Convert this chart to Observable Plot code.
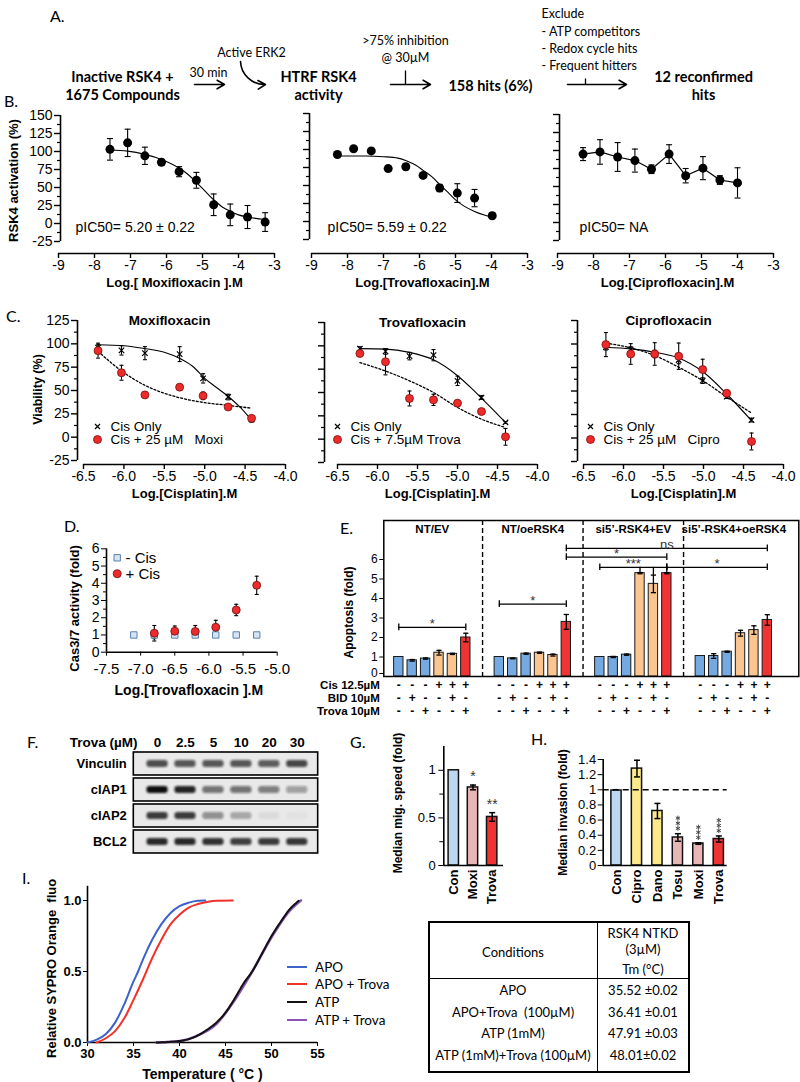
<!DOCTYPE html>
<html><head><meta charset="utf-8">
<script src="https://cdn.jsdelivr.net/npm/d3@7"></script>
<script src="https://cdn.jsdelivr.net/npm/@observablehq/plot@0.6"></script>
<style>
body{margin:0;background:#fff;}
#fig{position:relative;width:800px;height:1082px;overflow:hidden;background:#fff;}
.p{position:absolute;}
.p svg{overflow:visible;max-width:none !important;}
.lab{position:absolute;font-family:Lato,"Open Sans",sans-serif;font-size:16px;white-space:nowrap;line-height:1;}
#tbl{position:absolute;left:428px;top:921px;width:258px;height:148px;border:2px solid #000;font-family:Lato,"Open Sans",sans-serif;font-size:13px;}
#tbl .c{position:absolute;transform:translate(-50%,-50%);white-space:nowrap;}
#leg{position:absolute;left:287px;top:958px;font-family:Lato,"Open Sans",sans-serif;font-size:13.5px;}
#leg div{height:17.6px;display:flex;align-items:center;}
#leg span.l{display:inline-block;width:20px;height:2px;margin-right:8px;}
</style></head><body><div id="fig"></div>
<script>
const FONT = '"Liberation Sans", Arial, sans-serif';
const NARROW = 'Lato, "Open Sans", sans-serif';

// ================= DATA =================
// Panel A (flowchart)
const aBold = ["Inactive RSK4 +", "1675 Compounds", "HTRF RSK4", "activity", "158 hits (6%)", "12 reconfirmed", "hits"];
const aSmallMid = ["30 min", "Active ERK2", ">75% inhibition", "@ 30µM"];
const aSmallStart = ["Exclude", "- ATP competitors", "- Redox cycle hits", "- Frequent hitters"];

// Panel B
const bMoxiX = [-7.57, -7.08, -6.6, -6.14, -5.65, -5.17, -4.69, -4.23, -3.75, -3.26];
const bMoxiY = [103, 112, 94, 85, 72, 60, 26, 12, 9, 2];
const bMoxiE = [15, 19, 12, 4, 7, 11, 15, 15, 16, 13];
const bMoxiFitX = [-7.57, -7.08, -6.6, -6.14, -5.65, -5.4, -5.17, -4.95, -4.69, -4.45, -4.23, -4.0, -3.75, -3.26];
const bMoxiFitY = [102, 100.5, 96, 89, 77, 68, 57, 46, 33, 23, 17, 12, 9, 5.5];

const bTrovaX = [-8.28, -7.83, -7.34, -6.87, -6.38, -5.9, -5.44, -4.95, -4.47, -3.98];
const bTrovaY = [93, 101, 98, 73.5, 76, 64, 46.5, 39.5, 32.5, 8];
const bTrovaE = [2, 2, 2, 4, 4, 2, 5, 13, 12, 4];
const bTrovaFitX = [-8.28, -7.5, -7.0, -6.6, -6.35, -6.1, -5.9, -5.65, -5.45, -5.2, -5.0, -4.75, -4.47, -4.2, -3.98];
const bTrovaFitY = [91, 91, 90, 88, 84, 78, 71, 62, 52, 40, 30, 21, 14, 9, 6];

const bCiproX = [-8.29, -7.82, -7.33, -6.85, -6.39, -5.9, -5.44, -4.96, -4.49, -4.0];
const bCiproY = [95, 98, 91, 86, 74, 95, 65, 75.5, 59, 55];
const bCiproE = [9, 17, 20, 16, 6, 13, 10, 16, 6, 21];

// Panel C
const cMoxiX = [-6.32, -6.03, -5.74, -5.31, -5.02, -4.71, -4.42];
const cMoxiCis = [96, 93, 90, 89, 63, 43, 19];
const cMoxiCisE = [3, 5, 7, 8, 5, 3, 3];
const cMoxiCombo = [92.7, 69, 45.3, 53.6, 44.3, 32.4, 20.2];
const cMoxiComboE = [8, 8, 3, 3, 4, 2, 2];
const cMoxiFitCisX = [-6.32, -6.0, -5.75, -5.5, -5.3, -5.15, -5.0, -4.85, -4.7, -4.55, -4.42];
const cMoxiFitCisY = [99, 98, 95, 91, 84, 76, 63, 53, 43, 31, 18];
const cMoxiFitComboX = [-6.32, -6.03, -5.75, -5.5, -5.3, -5.0, -4.7, -4.42];
const cMoxiFitComboY = [92, 71, 56, 47, 42, 37, 34, 31];

const cTrovaX = [-6.22, -5.9, -5.6, -5.3, -5.0, -4.7, -4.4];
const cTrovaCis = [97, 94, 89, 90, 62.5, 44.6, 17.9];
const cTrovaCisE = [2, 3, 4, 6, 5, 2, 1];
const cTrovaCombo = [91.8, 82.9, 43.6, 42.1, 38.6, 29.6, 2.5];
const cTrovaComboE = [3, 14, 8, 6, 3, 3, 9];
const cTrovaFitCisX = [-6.22, -5.9, -5.6, -5.3, -5.0, -4.83, -4.7, -4.55, -4.4];
const cTrovaFitCisY = [97, 96.5, 93, 85, 68, 55, 44, 31, 18];
const cTrovaFitComboX = [-6.22, -5.9, -5.6, -5.3, -5.0, -4.7, -4.4];
const cTrovaFitComboY = [82, 73, 62.5, 50, 34, 21.4, 12.5];

const cCiproX = [-6.22, -5.91, -5.61, -5.31, -5.01, -4.71, -4.4];
const cCiproCis = [96.6, 94.1, 89.4, 83, 61, 44, 19.1];
const cCiproCisE = [3, 3, 4, 4, 3, 2, 2];
const cCiproCombo = [99.4, 89.4, 89.4, 87, 72.8, 47.6, -3.7];
const cCiproComboE = [12.8, 11, 12, 14, 11, 3, 9];
const cCiproFitCisY = [96.6, 94.8, 91.3, 85.2, 70.7, 46.8, 18.4];
const cCiproFitComboY = [101, 95.9, 87.7, 75.3, 61, 43.7, 26.6];

// Panel D
const dXNeg = [-7.1, -6.8, -6.5, -6.2, -5.9, -5.6, -5.3];
const dYNeg = [1, 1, 1, 1, 1, 1, 1];
const dENeg = [0, 0.22, 0.08, 0.08, 0.05, 0, 0];
const dXPos = [-6.8, -6.5, -6.2, -5.9, -5.6, -5.3];
const dYPos = [1.1, 1.22, 1.2, 1.45, 2.45, 3.88];
const dEPos = [0.45, 0.3, 0.35, 0.4, 0.33, 0.53];

// Panel E
const eGroups = ["NT/EV", "NT/oeRSK4", "si5’-RSK4+EV", "si5’-RSK4+oeRSK4"];
const eVals = [[1.0, 0.83, 0.92, 1.22, 1.16, 2.0], [1.0, 0.93, 1.17, 1.22, 1.1, 2.8], [1.0, 1.0, 1.12, 5.3, 4.75, 5.3], [1.05, 1.05, 1.27, 2.22, 2.38, 2.9]];
const eErr = [[0, 0.04, 0.03, 0.12, 0.03, 0.22], [0, 0.02, 0.03, 0.03, 0.05, 0.38], [0, 0.03, 0.03, 0.03, 0.45, 0.03], [0, 0.12, 0.03, 0.15, 0.22, 0.27]];
const eCis = ["-", "-", "-", "+", "+", "+"];
const eBID = ["-", "+", "-", "-", "+", "-"];
const eTrova = ["-", "-", "+", "-", "-", "+"];
const eRowLabels = ["Cis 12.5µM", "BID 10µM", "Trova 10µM"];
const eBrackets = [
  {g1: 0, i1: 0, g2: 0, i2: 5, y: 2.52, label: "*"},
  {g1: 1, i1: 0, g2: 1, i2: 5, y: 3.71, label: "*"},
  {g1: 1, i1: 5, g2: 3, i2: 5, y: 6.57, label: "ns"},
  {g1: 1, i1: 5, g2: 2, i2: 5, y: 6.12, label: "*"},
  {g1: 2, i1: 0, g2: 2, i2: 5, y: 5.6, label: "***"},
  {g1: 2, i1: 5, g2: 3, i2: 5, y: 5.6, label: "*"}
];

// Panel F (western blot band intensities)
const fLanes = ["0", "2.5", "5", "10", "20", "30"];
const fProteins = ["Vinculin", "cIAP1", "cIAP2", "BCL2"];
const fIntensity = [
  [0.72, 0.68, 0.68, 0.68, 0.65, 0.75],
  [1.0, 0.9, 0.55, 0.55, 0.5, 0.35],
  [0.8, 0.8, 0.42, 0.28, 0.06, 0.03],
  [0.88, 0.88, 0.84, 0.78, 0.8, 0.82]
];

// Panel G
const gCats = ["Con", "Moxi", "Trova"];
const gVals = [1.0, 0.82, 0.51];
const gErr = [0, 0.025, 0.045];
const gStars = ["", "*", "**"];

// Panel H
const hCats = ["Con", "Cipro", "Dano", "Tosu", "Moxi", "Trova"];
const hVals = [0.99, 1.28, 0.72, 0.37, 0.29, 0.35];
const hErr = [0, 0.11, 0.1, 0.05, 0.01, 0.04];
const hStars = [0, 0, 0, 3, 3, 3];

// Panel I
const iSeries = ["APO", "APO + Trova", "ATP", "ATP + Trova"];
const iApoT = [30, 31, 32, 33, 34, 35, 35.5, 36, 37, 38, 39, 40, 41, 42, 42.8];
const iApoF = [0, 0.02, 0.06, 0.14, 0.27, 0.43, 0.5, 0.58, 0.72, 0.83, 0.91, 0.96, 0.985, 0.998, 1.0];
const iApoTrT = [31, 32, 33, 34, 35, 36, 36.4, 37, 38, 39, 40, 41, 42, 43, 44, 45.8];
const iApoTrF = [0, 0.03, 0.08, 0.17, 0.3, 0.44, 0.5, 0.59, 0.72, 0.83, 0.9, 0.95, 0.975, 0.99, 0.998, 1.0];
const iAtpT = [37.5, 40, 42, 43, 44, 45, 46, 47, 47.9, 49, 50, 51, 52, 53];
const iAtpF = [0, 0.01, 0.05, 0.09, 0.14, 0.21, 0.31, 0.42, 0.5, 0.63, 0.75, 0.85, 0.94, 1.0];
const iAtpTrT = [37.5, 40, 42, 44, 46, 48, 50, 52, 53.2];
const iAtpTrF = [0, 0.01, 0.05, 0.13, 0.3, 0.51, 0.74, 0.93, 1.0];
const tConditions = ["APO", "APO+Trova  (100µM)", "ATP (1mM)", "ATP (1mM)+Trova (100µM)"];
const tTm = ["35.52 ±0.02", "36.41 ±0.01", "47.91 ±0.03", "48.01±0.02"];

// ================= HELPERS =================
const fig = document.getElementById("fig");
function place(node, left, top, w) {
  const d = document.createElement("div");
  d.className = "p"; d.style.left = left + "px"; d.style.top = top + "px";
  if (w) d.style.width = w + "px";
  d.appendChild(node); fig.appendChild(d); return d;
}
function lab(text, left, top, css = {}) {
  const d = document.createElement("div"); d.className = "lab"; d.textContent = text;
  d.style.left = left + "px"; d.style.top = top + "px"; Object.assign(d.style, css);
  fig.appendChild(d); return d;
}
const baseStyle = {fontFamily: FONT, fontSize: "14px", background: "transparent", overflow: "visible"};
const capSym = {draw(ctx, size) { const r = Math.sqrt(size / Math.PI); ctx.moveTo(-r, 0); ctx.lineTo(r, 0); }};
function rows(X, Y, E) { return X.map((x, i) => ({x, y: Y[i], e: E ? E[i] : 0})); }
function errMarks(data, {stroke = "#000", cap = 3, sw = 1.1} = {}) {
  const d = data.filter(r => r.e > 0);
  return [
    Plot.ruleX(d, {x: "x", y1: r => r.y - r.e, y2: r => r.y + r.e, stroke, strokeWidth: sw}),
    Plot.dot(d, {x: "x", y: r => r.y + r.e, symbol: capSym, r: cap, fill: "none", stroke, strokeWidth: sw}),
    Plot.dot(d, {x: "x", y: r => r.y - r.e, symbol: capSym, r: cap, fill: "none", stroke, strokeWidth: sw})
  ];
}
function yTitle(t, dx, dy, size = 13) {
  return Plot.text([t], {frameAnchor: "left", rotate: -90, dx, dy, textAnchor: "middle", lineAnchor: "middle", fontWeight: "bold", fontSize: size});
}
function xTitle(t, dy, dx = 0, size = 13) {
  return Plot.text([t], {frameAnchor: "bottom", dx, dy, textAnchor: "middle", lineAnchor: "middle", fontWeight: "bold", fontSize: size});
}

function dosePanel(o) {
  const mL = 62, mT = 14, mR = 24, mB = 44;
  const L = o.x0 - mL, T = o.y1 - mT;
  const W = mL + (o.x1 - o.x0) + mR;
  const H = (o.axisPx - T) + mB;
  const [ymin, ymax] = o.yDomain;
  const yLine = ymin - (o.axisPx - o.y0) * (ymax - ymin) / (o.y0 - o.y1);
  const dxY = o.yAxisPx - o.x0;
  const marks = [
    Plot.ruleY([yLine], {stroke: "#000", strokeWidth: 1.6}),
    Plot.ruleX([o.xDomain[0]], {y1: ymin, y2: ymax, dx: dxY, stroke: "#000", strokeWidth: 1.6}),
    Plot.axisX({ticks: o.xTicks, tickFormat: o.xFmt, tickSize: 5, tickPadding: 2, fontSize: 14, strokeWidth: 1.4, label: null}),
    Plot.axisY({ticks: o.yMinor, tickFormat: () => "", tickSize: 3, dx: dxY, strokeWidth: 1.2, label: null}),
    Plot.axisY({ticks: o.yTicks, tickFormat: o.showY ? (d) => String(d) : () => "", tickSize: 6, tickPadding: 2, dx: dxY, fontSize: 14, strokeWidth: 1.4, label: null}),
    xTitle(o.xTitle, o.xTitleDy, o.xTitleDx || 0)
  ];
  if (o.yTitle) marks.push(yTitle(o.yTitle, o.yTitleDx, o.yTitleDy || 0, o.yTitleSize || 13));
  marks.push(...o.marks);
  const svg = Plot.plot({
    width: W, height: H, marginLeft: mL, marginRight: mR, marginTop: mT, marginBottom: mB,
    x: {domain: o.xDomain}, y: {domain: o.yDomain, range: [o.y0 - T, o.y1 - T]},
    style: baseStyle, marks
  });
  place(svg, L, T, W);
}

// ================= PANEL A =================
{
  const boldPos = [[122, 77], [122, 95], [318, 77], [318, 95], [490, 86], [703, 77], [703, 95]];
  const midPos = [[208, 72], [251, 52], [405, 40], [405, 57]];
  const startPos = [[541, 13], [541, 31], [541, 48], [541, 65]];
  const arrows = [[194, 84, 224, 84], [390, 84, 430, 84], [567, 84, 626, 84]];
  const hooks = [[240, 61, 265, 84]];
  const stems = [[405, 70, 405, 84], [585, 78, 585, 84]];
  const svg = Plot.plot({
    width: 800, height: 100, margin: 0,
    x: {type: "identity", axis: null}, y: {type: "identity", axis: null},
    style: {...baseStyle, fontFamily: NARROW},
    marks: [
      Plot.text(aBold, {x: (d, i) => boldPos[i][0], y: (d, i) => boldPos[i][1], fontWeight: "bold", fontSize: 14.5}),
      Plot.text(aSmallMid, {x: (d, i) => midPos[i][0], y: (d, i) => midPos[i][1], fontSize: 12.5}),
      Plot.text(aSmallStart, {x: (d, i) => startPos[i][0], y: (d, i) => startPos[i][1], fontSize: 12.5, textAnchor: "start"}),
      Plot.arrow(arrows, {x1: d => d[0], y1: d => d[1], x2: d => d[2], y2: d => d[3], headLength: 8, strokeWidth: 1.6, stroke: "#000"}),
      Plot.arrow(hooks, {x1: d => d[0], y1: d => d[1], x2: d => d[2], y2: d => d[3], bend: -45, headLength: 8, strokeWidth: 1.6, stroke: "#000"}),
      Plot.link(stems, {x1: d => d[0], y1: d => d[1], x2: d => d[2], y2: d => d[3], strokeWidth: 1.3, stroke: "#000"})
    ]
  });
  place(svg, 0, 0, 800);
}

// ================= PANEL B =================
const bCommon = {xDomain: [-9, -3], yDomain: [-25, 150], xTicks: d3.range(-9, -2), xFmt: d => String(d),
  yTicks: d3.range(-25, 151, 25), yMinor: d3.range(-12.5, 150, 25), xTitleDy: 29};
function pic(t, dx) {
  return Plot.text([t], {frameAnchor: "bottom-left", dx, dy: -26, textAnchor: "start", lineAnchor: "middle", fontSize: 14});
}
{
  const pts = rows(bMoxiX, bMoxiY, bMoxiE);
  const fit = rows(bMoxiFitX, bMoxiFitY);
  dosePanel({...bCommon, x0: 58, x1: 274, y1: 115, y0: 241, axisPx: 253, yAxisPx: 60, showY: true,
    xTitle: "Log.[ Moxifloxacin ].M", xTitleDx: 8, yTitle: "RSK4 activation (%)", yTitleDx: -45, yTitleDy: -4,
    marks: [
      Plot.line(fit, {x: "x", y: "y", curve: "monotone-x", stroke: "#000", strokeWidth: 1.1}),
      ...errMarks(pts),
      Plot.dot(pts, {x: "x", y: "y", r: 4.5, fill: "#000"}),
      pic("pIC50= 5.20 ± 0.22", 17)
    ]});
}
{
  const pts = rows(bTrovaX, bTrovaY, bTrovaE);
  const fit = rows(bTrovaFitX, bTrovaFitY);
  dosePanel({...bCommon, x0: 311, x1: 527, y1: 113, y0: 239, axisPx: 253, yAxisPx: 309, showY: false,
    xTitle: "Log.[Trovafloxacin].M", xTitleDx: 3,
    marks: [
      Plot.line(fit, {x: "x", y: "y", curve: "monotone-x", stroke: "#000", strokeWidth: 1.1}),
      ...errMarks(pts),
      Plot.dot(pts, {x: "x", y: "y", r: 4.5, fill: "#000"}),
      pic("pIC50= 5.59 ± 0.22", 16)
    ]});
}
{
  const pts = rows(bCiproX, bCiproY, bCiproE);
  dosePanel({...bCommon, x0: 557, x1: 773, y1: 114, y0: 240, axisPx: 253, yAxisPx: 559, showY: false,
    xTitle: "Log.[Ciprofloxacin].M", xTitleDx: 2,
    marks: [
      Plot.line(pts, {x: "x", y: "y", stroke: "#000", strokeWidth: 1.2}),
      ...errMarks(pts),
      Plot.dot(pts, {x: "x", y: "y", r: 4.5, fill: "#000"}),
      pic("pIC50= NA", 22)
    ]});
}

// ================= PANEL C =================
const cCommon = {xDomain: [-6.5, -4.0], yDomain: [-25, 125], xTicks: d3.range(-6.5, -3.99, 0.5), xFmt: d => d.toFixed(1),
  yTicks: d3.range(-25, 126, 25), yMinor: d3.range(-12.5, 125, 25), xTitleDy: 29, xTitle: "Log.[Cisplatin].M"};
function cMarks(X, cis, cisE, combo, comboE, fitCisX, fitCisY, fitComboX, fitComboY, title, legendTxt, lgDx) {
  const c1 = rows(X, cis, cisE), c2 = rows(X, combo, comboE);
  const lt = (t, dy) => Plot.text([t], {frameAnchor: "bottom-left", dx: lgDx + 13, dy, textAnchor: "start", lineAnchor: "middle", fontSize: 13.5});
  return [
    Plot.line(rows(fitCisX, fitCisY), {x: "x", y: "y", curve: "monotone-x", stroke: "#000", strokeWidth: 1.1}),
    Plot.line(rows(fitComboX, fitComboY), {x: "x", y: "y", curve: "monotone-x", stroke: "#000", strokeWidth: 1.3, strokeDasharray: "2,2"}),
    ...errMarks(c1, {cap: 2}),
    ...errMarks(c2, {cap: 2}),
    Plot.dot(c1, {x: "x", y: "y", symbol: "times", r: 2.6, stroke: "#000", strokeWidth: 1.2}),
    Plot.dot(c2, {x: "x", y: "y", r: 4, fill: "#ee2b2b", stroke: "#7a1010", strokeWidth: 0.8}),
    Plot.text([title], {frameAnchor: "top", dx: -15, textAnchor: "middle", lineAnchor: "middle", fontWeight: "bold", fontSize: 13.5}),
    Plot.dot([0], {frameAnchor: "bottom-left", dx: lgDx, dy: -38, symbol: "times", r: 2.4, stroke: "#000", strokeWidth: 1.2}),
    Plot.dot([0], {frameAnchor: "bottom-left", dx: lgDx, dy: -25, r: 4, fill: "#ee2b2b", stroke: "#7a1010", strokeWidth: 0.8}),
    lt("Cis Only", -38), lt(legendTxt, -25)
  ];
}
dosePanel({...cCommon, x0: 83, x1: 285, y1: 320, y0: 460, axisPx: 464, yAxisPx: 77, showY: true,
  yTitle: "Viability (%)", yTitleDx: -46, yTitleDy: -3, yTitleSize: 12.5,
  marks: cMarks(cMoxiX, cMoxiCis, cMoxiCisE, cMoxiCombo, cMoxiComboE, cMoxiFitCisX, cMoxiFitCisY, cMoxiFitComboX, cMoxiFitComboY,
    "Moxifloxacin", "Cis + 25 µM\u00a0\u00a0\u00a0Moxi", 14)});
dosePanel({...cCommon, x0: 337, x1: 537, y1: 322, y0: 462, axisPx: 464, yAxisPx: 324, showY: false,
  marks: cMarks(cTrovaX, cTrovaCis, cTrovaCisE, cTrovaCombo, cTrovaComboE, cTrovaFitCisX, cTrovaFitCisY, cTrovaFitComboX, cTrovaFitComboY,
    "Trovafloxacin", "Cis + 7.5µM Trova", 0)});
dosePanel({...cCommon, x0: 583, x1: 783, y1: 320, y0: 461, axisPx: 464, yAxisPx: 577, showY: false,
  marks: cMarks(cCiproX, cCiproCis, cCiproCisE, cCiproCombo, cCiproComboE, cCiproX, cCiproFitCisY, cCiproX, cCiproFitComboY,
    "Ciprofloxacin", "Cis + 25 µM\u00a0\u00a0\u00a0Cipro", 7)});

// ================= PANEL D =================
{
  const neg = rows(dXNeg, dYNeg, dENeg), pos = rows(dXPos, dYPos, dEPos);
  const lt = (t, dy) => Plot.text([t], {frameAnchor: "top-left", dx: 19, dy, textAnchor: "start", lineAnchor: "middle", fontSize: 15});
  const svg = Plot.plot({
    width: 232, height: 165, marginLeft: 46, marginRight: 15.3, marginTop: 8.3, marginBottom: 53.3,
    x: {domain: [-7.5, -5.0]}, y: {domain: [0, 6]}, style: baseStyle,
    marks: [
      Plot.ruleY([0], {strokeWidth: 1.6}),
      Plot.ruleX([-7.5], {y1: 0, y2: 6, strokeWidth: 1.6}),
      Plot.axisX({ticks: d3.range(-7.5, -4.99, 0.5), tickFormat: d => d.toFixed(1), tickSize: 4, tickPadding: 7, fontSize: 15, label: null}),
      Plot.axisY({ticks: d3.range(0.5, 6, 1), tickFormat: () => "", tickSize: 3, label: null}),
      Plot.axisY({ticks: d3.range(0, 7), tickFormat: d => String(d), tickSize: 5, tickPadding: 2, fontSize: 14, label: null}),
      xTitle("Log.[Trovafloxacin ].M", 38, -3, 14),
      yTitle("Cas3/7 activity (fold)", -32, 8, 13),
      ...errMarks(neg, {cap: 2, stroke: "#444"}),
      ...errMarks(pos, {cap: 2}),
      Plot.dot(neg, {x: "x", y: "y", symbol: "square", r: 3.6, fill: "#d4e6f6", stroke: "#5b7fa6", strokeWidth: 1}),
      Plot.dot(pos, {x: "x", y: "y", r: 4, fill: "#ee2b2b", stroke: "#6a1010", strokeWidth: 0.8}),
      Plot.dot([0], {frameAnchor: "top-left", dx: 10.7, dy: 9, symbol: "square", r: 3.6, fill: "#d4e6f6", stroke: "#5b7fa6", strokeWidth: 1}),
      Plot.dot([0], {frameAnchor: "top-left", dx: 10.7, dy: 25, r: 4, fill: "#ee2b2b", stroke: "#6a1010", strokeWidth: 0.8}),
      lt("- Cis", 9), lt("+ Cis", 25)
    ]
  });
  place(svg, 60, 540, 232);
}

// ================= PANEL E =================
{
  const ePos = (g, i) => g * 7.5 + i;
  const eColors = ["#74a9e2", "#74a9e2", "#74a9e2", "#fbc590", "#fbc590", "#f03434"];
  const bars = eVals.flatMap((vals, g) => vals.map((v, i) => ({x: ePos(g, i), y: v, e: eErr[g][i], c: eColors[i]})));
  const br = eBrackets.map(b => ({x1: ePos(b.g1, b.i1), x2: ePos(b.g2, b.i2), y: b.y, label: b.label}));
  const brEnds = br.flatMap(b => [{x: b.x1, y: b.y}, {x: b.x2, y: b.y}]);
  const starTicks = [3, 4, 5].map(i => ({x: ePos(2, i), y1: 5.6, y2: eVals[2][i] + eErr[2][i]}));
  const signRows = [eCis, eBID, eTrova];
  const signMarks = signRows.map((row, r) =>
    Plot.text(eGroups.flatMap((g, gi) => row.map((s, i) => ({x: ePos(gi, i), s}))),
      {x: "x", text: "s", frameAnchor: "bottom", dy: 9 + 13 * r, lineAnchor: "middle", fontWeight: "bold", fontSize: 12}));
  const rowLabelMarks = eRowLabels.map((t, r) =>
    Plot.text([t], {frameAnchor: "bottom-left", dx: -4, dy: 9 + 13 * r, textAnchor: "end", lineAnchor: "middle", fontWeight: "bold", fontSize: 11.5}));
  const seps = d3.range(1, 4).map(g => ePos(g, 0) - 1.25);
  const svg = Plot.plot({
    width: 480, height: 206, marginLeft: 63.3, marginRight: 1.7, marginTop: 5, marginBottom: 45,
    x: {domain: [-1.12, 29.85], axis: null}, y: {domain: [0, 8]}, style: baseStyle,
    marks: [
      Plot.rectY(bars, {x1: d => d.x - 0.35, x2: d => d.x + 0.35, y: "y", fill: "c", stroke: "#1a1a1a", strokeWidth: 1}),
      ...errMarks(bars, {cap: 2.6, sw: 1.3}),
      Plot.ruleX(seps, {strokeDasharray: "5,3", strokeWidth: 1.4}),
      Plot.ruleY(br, {x1: "x1", x2: "x2", y: "y", strokeWidth: 1.3}),
      Plot.ruleX(brEnds, {x: "x", y1: d => d.y - 0.17, y2: d => d.y + 0.17, strokeWidth: 1.3}),
      Plot.ruleX(starTicks, {x: "x", y1: "y1", y2: "y2", strokeWidth: 1.3}),
      Plot.text(br, {x: d => (d.x1 + d.x2) / 2, y: "y", text: "label", dy: 1, lineAnchor: "bottom", fontSize: 13, fill: "#333"}),
      Plot.text(eGroups, {x: (d, i) => ePos(i, 2.5), y: 7.55, fontWeight: "bold", fontSize: 11.5}),
      Plot.frame({strokeWidth: 1.5}),
      Plot.axisY({ticks: d3.range(1, 7), tickFormat: d => String(d), tickSize: 4, tickPadding: 2, fontSize: 12, label: null}),
      Plot.axisY({ticks: [0], tickFormat: d => String(d), tickSize: 4, tickPadding: 2, fontSize: 12, dy: -3, label: null}),
      yTitle("Apoptosis (fold)", -35, 14, 12),
      ...signMarks, ...rowLabelMarks
    ]
  });
  place(svg, 320, 515, 480);
}

// ================= PANEL F =================
{
  const bands = fProteins.flatMap((p, r) => fLanes.map((l, i) => ({p, lane: i, k: fIntensity[r][i]})));
  const svg = Plot.plot({
    width: 302.7, height: 132.7, marginLeft: 113.3, marginRight: 5, marginTop: 21.7, marginBottom: 10,
    x: {domain: [-0.85, 5.75]}, y: {domain: fProteins, paddingInner: 0.12, paddingOuter: 0}, style: baseStyle,
    marks: [
      Plot.barX(fProteins, {x1: () => -0.85, x2: () => 5.75, y: d => d, fill: "#e9e9e9", stroke: "#000", strokeWidth: 1.6}),
      Plot.barX(bands, {x1: d => d.lane - 0.38, x2: d => d.lane + 0.38, y: "p", fill: "#111", fillOpacity: "k", insetTop: 8, insetBottom: 8, rx: 3, className: "blotband"}),
      Plot.axisY({tickSize: 0, tickPadding: 7, fontWeight: "bold", fontSize: 13, label: null}),
      Plot.axisX({anchor: "top", ticks: d3.range(0, 6), tickFormat: i => fLanes[i], tickSize: 0, tickPadding: 5, fontWeight: "bold", fontSize: 13.5, label: null}),
      Plot.text(["Trova (µM)"], {frameAnchor: "top-left", dx: 3.7, dy: -10, textAnchor: "end", lineAnchor: "middle", fontWeight: "bold", fontSize: 13.5})
    ]
  });
  const ns = "http://www.w3.org/2000/svg";
  const defs = document.createElementNS(ns, "defs");
  defs.innerHTML = '<filter id="fblur" x="-20%" y="-50%" width="140%" height="200%"><feGaussianBlur stdDeviation="1.1"/></filter>';
  svg.insertBefore(defs, svg.firstChild);
  svg.querySelectorAll(".blotband").forEach(g => g.setAttribute("filter", "url(#fblur)"));
  place(svg, 20, 730, 303);
}

// ================= PANEL G =================
{
  const gColors = ["#bcd7f0", "#e9b6b6", "#ee3333"];
  const data = gCats.map((c, i) => ({x: i, y: gVals[i], e: gErr[i], c: gColors[i], s: gStars[i]}));
  const svg = Plot.plot({
    width: 123, height: 175, marginLeft: 58.3, marginRight: 5, marginTop: 11, marginBottom: 45,
    x: {domain: [-0.52, 2.59]}, y: {domain: [0, 1.25]}, style: baseStyle,
    marks: [
      Plot.rectY(data, {x1: d => d.x - 0.27, x2: d => d.x + 0.27, y: "y", fill: "c", stroke: "#111", strokeWidth: 1.5}),
      ...errMarks(data, {cap: 3, sw: 1.5}),
      Plot.ruleY([0], {strokeWidth: 1.6}),
      Plot.ruleX([-0.52], {y1: 0, y2: 1.25, strokeWidth: 1.6}),
      Plot.axisY({ticks: [0.25, 0.75], tickFormat: () => "", tickSize: 4, label: null}),
      Plot.axisY({ticks: [0, 0.5, 1], tickFormat: d => String(d), tickSize: 5, tickPadding: 3, fontSize: 13, label: null}),
      Plot.axisX({ticks: [0, 1, 2], tickFormat: i => gCats[i], tickRotate: -90, tickSize: 0, tickPadding: 4, fontWeight: "bold", fontSize: 13, label: null}),
      Plot.text(data, {x: "x", y: d => d.y + d.e + 0.09, text: "s", fontSize: 14, fill: "#333"}),
      yTitle("Median mig. speed (fold)", -46, -3, 12)
    ]
  });
  place(svg, 385, 735, 123);
}

// ================= PANEL H =================
{
  const hColors = ["#bcd7f0", "#fce98c", "#fce98c", "#e9b6b6", "#e9b6b6", "#ee3333"];
  const data = hCats.map((c, i) => ({x: i, y: hVals[i], e: hErr[i], c: hColors[i], n: hStars[i]}));
  const starDots = data.flatMap(d => d3.range(d.n).map(k => ({x: d.x, y: d.y + d.e + 0.07 + k * 0.068})));
  const svg = Plot.plot({
    width: 187, height: 175, marginLeft: 54.7, marginRight: 8.3, marginTop: 24, marginBottom: 45,
    x: {domain: [-0.65, 5.41]}, y: {domain: [0, 1.4]}, style: baseStyle,
    marks: [
      Plot.rectY(data, {x1: d => d.x - 0.25, x2: d => d.x + 0.25, y: "y", fill: "c", stroke: "#111", strokeWidth: 1.5}),
      ...errMarks(data, {cap: 3, sw: 1.5}),
      Plot.ruleY([1], {strokeDasharray: "6,4", strokeWidth: 1.5}),
      Plot.ruleY([0], {strokeWidth: 1.6}),
      Plot.ruleX([-0.65], {y1: 0, y2: 1.4, strokeWidth: 1.6}),
      Plot.axisY({ticks: [0, 0.2, 0.4, 0.6, 0.8, 1, 1.2, 1.4], tickFormat: d => String(d), tickSize: 5, tickPadding: 2, fontSize: 13, label: null}),
      Plot.axisX({ticks: d3.range(0, 6), tickFormat: i => hCats[i], tickRotate: -90, tickSize: 0, tickPadding: 4, fontWeight: "bold", fontSize: 13, label: null}),
      Plot.dot(starDots, {x: "x", y: "y", symbol: "asterisk", r: 2.3, stroke: "#444", strokeWidth: 1}),
      yTitle("Median invasion (fold)", -40, 0, 12)
    ]
  });
  place(svg, 548, 735, 187);
}

// ================= PANEL I =================
{
  const iColors = ["#3d63c9", "#f0322a", "#111111", "#8a55b5"];
  const series = [rows(iApoT, iApoF), rows(iApoTrT, iApoTrF), rows(iAtpT, iAtpF), rows(iAtpTrT, iAtpTrF)];
  const svg = Plot.plot({
    width: 307, height: 212, marginLeft: 67, marginRight: 10, marginTop: 15.8, marginBottom: 40,
    x: {domain: [30, 55]}, y: {domain: [0, 1.1]}, style: baseStyle,
    marks: [
      Plot.ruleY([0], {strokeWidth: 1.6}),
      Plot.ruleX([30], {y1: 0, y2: 1.1, strokeWidth: 1.6}),
      Plot.axisX({ticks: d3.range(30, 56, 5), tickSize: 4, tickPadding: 2, fontWeight: "bold", fontSize: 13, label: null}),
      Plot.axisY({ticks: [0, 0.5, 1], tickFormat: d => d.toFixed(1), tickSize: 4, tickPadding: 2, fontWeight: "bold", fontSize: 13, label: null}),
      Plot.line(series[3], {x: "x", y: "y", curve: "monotone-x", stroke: iColors[3], strokeWidth: 2.6}),
      Plot.line(series[2], {x: "x", y: "y", curve: "monotone-x", stroke: iColors[2], strokeWidth: 2, strokeDasharray: "2,0.6"}),
      Plot.line(series[1], {x: "x", y: "y", curve: "monotone-x", stroke: iColors[1], strokeWidth: 2}),
      Plot.line(series[0], {x: "x", y: "y", curve: "monotone-x", stroke: iColors[0], strokeWidth: 2}),
      xTitle("Temperature ( °C )", 32, 0, 14),
      yTitle("Relative SYPRO Orange\u00a0\u00a0fluo", -36, 4, 13)
    ]
  });
  place(svg, 20, 870, 307);
  const leg = document.createElement("div"); leg.id = "leg";
  iSeries.forEach((s, i) => {
    const row = document.createElement("div");
    row.innerHTML = `<span class="l" style="background:${iColors[i]}"></span><span>${s}</span>`;
    leg.appendChild(row);
  });
  fig.appendChild(leg);

  // table
  const tbl = document.createElement("div"); tbl.id = "tbl";
  const cell = (t, x, y) => { const c = document.createElement("div"); c.className = "c"; c.textContent = t; c.style.left = x + "px"; c.style.top = y + "px"; tbl.appendChild(c); };
  const hline = document.createElement("div"); Object.assign(hline.style, {position: "absolute", left: "0", right: "0", top: "55px", borderTop: "1.5px solid #000"}); tbl.appendChild(hline);
  const vline = document.createElement("div"); Object.assign(vline.style, {position: "absolute", top: "0", bottom: "0", left: "167px", borderLeft: "1.5px solid #000"}); tbl.appendChild(vline);
  cell("Conditions", 83, 29);
  cell("RSK4 NTKD", 213, 10); cell("(3µM)", 213, 26); cell("Tm (°C)", 213, 46);
  tConditions.forEach((t, i) => { cell(t.replace(/  /g, "\u00a0\u00a0"), 83, 67 + 21.5 * i); cell(tTm[i], 213, 67 + 21.5 * i); });
  fig.appendChild(tbl);
}

// ================= PANEL LETTERS =================
[["A.", 50, 8], ["B.", 4, 93], ["C.", 6, 308], ["D.", 64, 518], ["E.", 340, 520], ["F.", 27, 734], ["G.", 350, 734], ["H.", 531, 731], ["I.", 22, 870]]
  .forEach(([t, x, y]) => lab(t, x, y));
</script></body></html>
